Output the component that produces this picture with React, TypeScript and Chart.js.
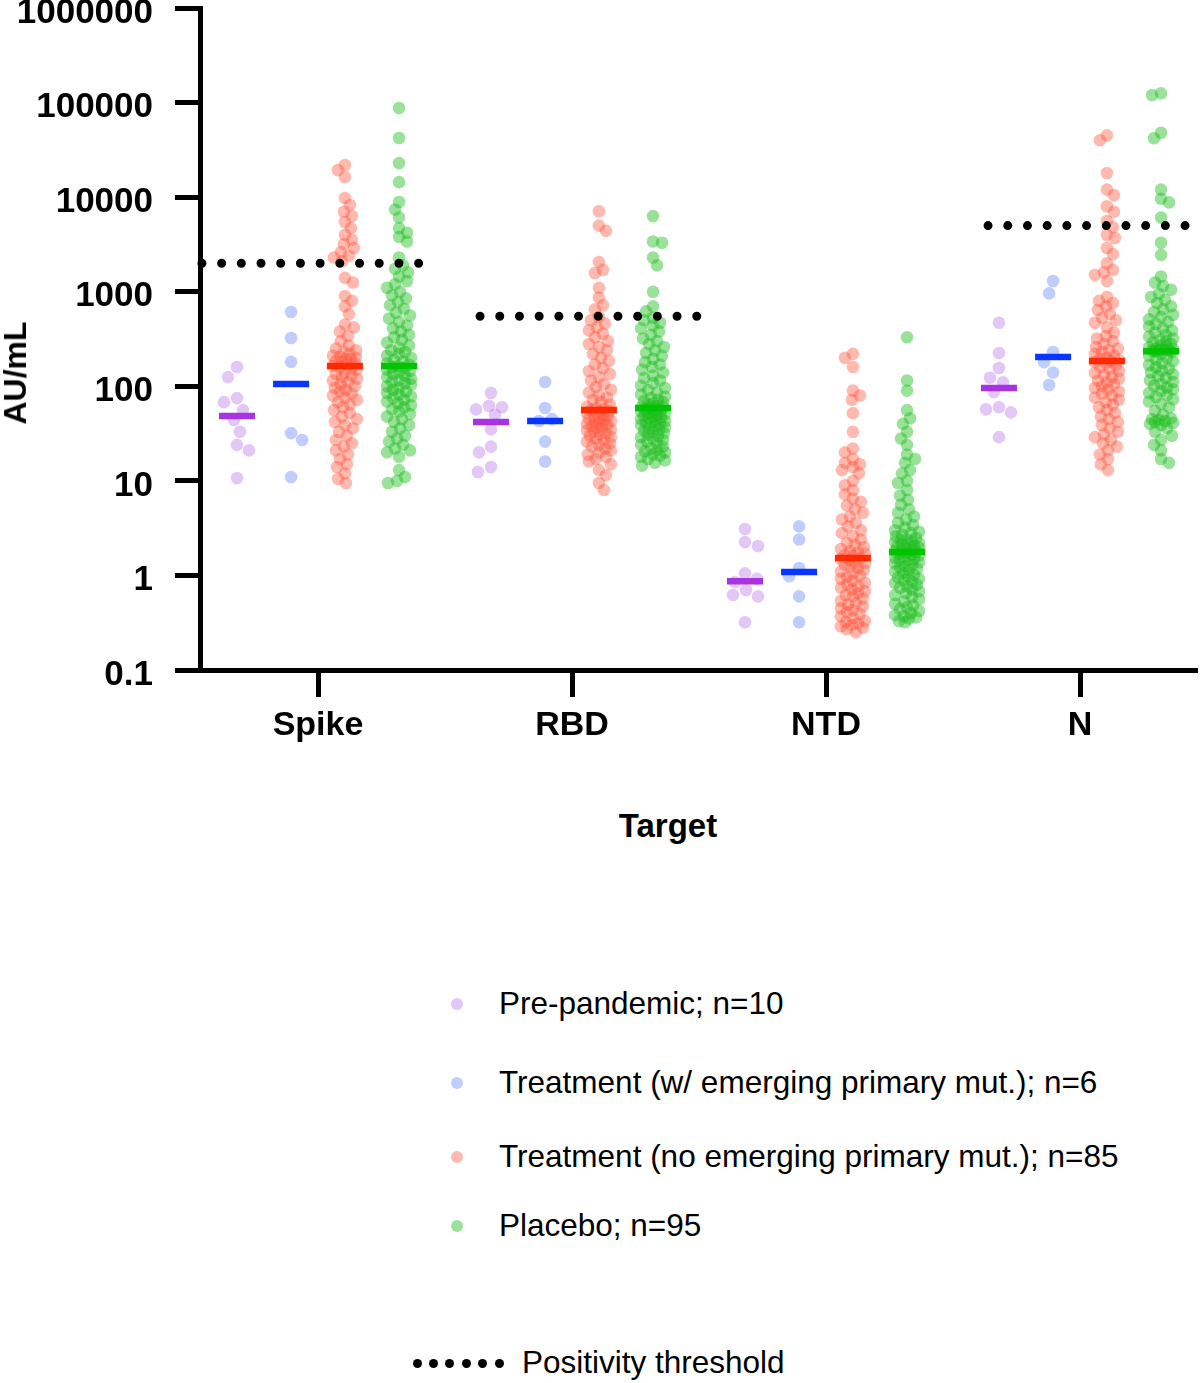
import React, { useEffect, useRef } from 'react';
import { Chart, registerables } from 'chart.js';

Chart.register(...registerables);

const categories = ['Spike', 'RBD', 'NTD', 'N'];
const yTickValues = [0.1, 1, 10, 100, 1000, 10000, 100000, 1000000];
const groupLabels = [
  'Pre-pandemic; n=10',
  'Treatment (w/ emerging primary mut.); n=6',
  'Treatment (no emerging primary mut.); n=85',
  'Placebo; n=95',
];
const thresholdLabel = 'Positivity threshold';

// ---- Spike ----
const spikePre = [160, 125, 75, 68, 56, 44, 33, 24, 21, 10.7];
const spikeMut = [611, 324, 181, 32, 27, 11];
const spikeNoMut = [
  21900, 19400, 16300, 9800, 8250, 7000, 6300, 5460, 4700, 4000,
  3550, 3200, 2900, 2620, 2400, 2300, 2100,
  1400, 1250, 900, 800, 700, 580, 450, 420, 380, 340, 300, 270,
  250, 240, 230, 220, 210, 205, 200, 195, 190, 185, 180, 175, 170,
  164,
  160, 155, 150, 140, 135, 130, 125, 120, 115, 110,
  105, 100, 96, 92, 88, 84, 80, 76, 72, 68,
  64, 60, 56, 52, 48, 45, 42, 39, 36, 33,
  30, 27, 25, 23, 21, 19, 17, 15, 14, 12, 10.5, 9.5,
];
const spikePlacebo = [
  87700, 42200, 22900, 14400, 8900, 7400, 6100, 4700, 4200, 3800, 3400, 2300,
  1900, 1750, 1600, 1450, 1300, 1200, 1100, 1000, 920, 850,
  780, 720, 660, 600, 560, 520, 480, 440, 410, 380,
  350, 330, 310, 290, 270, 255, 240, 230, 220, 210,
  200, 190, 182, 175, 170,
  164,
  160, 155, 150, 145, 140, 135, 130, 125, 120, 116,
  112, 108, 104, 100, 96, 92, 88, 85, 82, 78,
  75, 72, 69, 66, 63, 60, 57, 54, 51, 48,
  45, 42, 39, 36,
  33, 30, 28, 26, 24, 22, 21, 20, 18, 13, 11, 10, 9.5,
];

// ---- RBD ----
const rbdPre = [85, 62, 60, 57, 50, 35, 23, 20, 14, 12.4];
const rbdMut = [111, 59, 45, 43, 26, 16];
const rbdNoMut = [
  7100, 5000, 4400, 2060, 1700, 1580, 1100, 870, 720, 650,
  540, 500, 460, 420, 390, 360, 330, 300, 280, 260,
  240, 220, 200, 185, 170, 155, 145, 135, 125, 115,
  105, 98, 92, 86, 80, 76, 72, 68, 64, 61, 59, 57,
  56,
  55, 54, 52, 50, 49, 48, 46, 45, 44, 43,
  42, 41, 40, 39, 38, 37, 36, 35, 34, 33,
  32, 31, 30, 29, 28, 27, 26, 25, 24, 23,
  22, 21, 20, 19, 18, 17, 16, 15, 13, 11.5, 9.5, 8,
];
const rbdPlacebo = [
  6300, 3400, 3300, 2300, 1900, 1000, 700, 620,
  530, 500, 470, 440, 410, 380, 350, 320, 300, 280,
  260, 240, 225, 210, 195, 180, 170, 160, 150, 140,
  130, 122, 115, 108, 102, 96, 91, 86, 82, 78,
  75, 72, 70, 68, 66, 64, 62, 61, 60,
  59,
  58, 57, 56, 55, 54, 53, 52, 51, 50, 49,
  48, 47, 46, 45, 44, 43, 42, 41, 40, 39,
  38, 37, 36, 35, 34, 33, 32, 31, 30, 29,
  28, 27, 26, 25, 24, 23, 22, 21,
  20.5, 20, 19, 18.5, 18, 17, 16.5, 15.5, 14.5,
];

// ---- NTD ----
const ntdPre = [3.1, 2.25, 2.05, 1.05, 0.92, 0.85, 0.7, 0.62, 0.6, 0.32];
const ntdMut = [3.3, 2.4, 1.2, 0.98, 0.6, 0.32];
const ntdNoMut = [
  220, 200, 160, 90, 80, 72, 52, 33, 22, 20,
  17, 15.5, 15, 14, 13, 12, 10, 9, 8, 7.2,
  6.5, 6, 5.5, 5, 4.6, 4.2, 3.9, 3.6, 3.3, 3.0,
  2.8, 2.6, 2.4, 2.2, 2.1, 2.0, 1.9, 1.8, 1.75, 1.7, 1.65, 1.6,
  1.53,
  1.48, 1.45, 1.4, 1.35, 1.3, 1.25, 1.2, 1.15, 1.1, 1.05,
  1.0, 0.96, 0.92, 0.88, 0.84, 0.8, 0.77, 0.74, 0.71, 0.68,
  0.65, 0.62, 0.6, 0.57, 0.54, 0.51, 0.49, 0.47, 0.45, 0.43,
  0.41, 0.39, 0.37, 0.35, 0.33, 0.32, 0.31, 0.3, 0.29, 0.28, 0.27, 0.25,
];
const ntdPlacebo = [
  330, 115, 90, 56, 46, 40, 33, 28, 24, 19,
  17, 15.5, 13, 12, 10, 9.5, 8, 7, 6.3, 5.6,
  5, 4.6, 4.2, 3.9, 3.6, 3.4, 3.2, 3.0, 2.9, 2.8,
  2.7, 2.6, 2.5, 2.4, 2.35, 2.3, 2.25, 2.2, 2.15, 2.1,
  2.05, 2.0, 1.95, 1.9, 1.85, 1.82, 1.8,
  1.77,
  1.74, 1.7, 1.66, 1.62, 1.58, 1.54, 1.5, 1.46, 1.42, 1.38,
  1.34, 1.3, 1.26, 1.22, 1.18, 1.14, 1.1, 1.06, 1.02, 0.98,
  0.95, 0.92, 0.89, 0.86, 0.83, 0.8, 0.77, 0.74, 0.71, 0.68,
  0.65, 0.62, 0.59, 0.56, 0.53, 0.5, 0.48, 0.46, 0.44, 0.42,
  0.4, 0.38, 0.37, 0.36, 0.35, 0.33, 0.32,
];

// ---- N ----
const nPre = [470, 225, 156, 123, 110, 87, 60, 57, 53, 29];
const nMut = [1300, 960, 230, 180, 140, 103];
const nNoMut = [
  45000, 40000, 18000, 12000, 10500, 8000, 7000, 5600, 4800, 4000,
  3700, 2900, 2500, 2000, 1700, 1600, 1500, 1300, 880, 800,
  760, 700, 640, 580, 530, 500, 470, 420, 370, 340,
  320, 300, 280, 260, 250, 240, 230, 220, 210, 200, 195, 190,
  185,
  180, 175, 168, 160, 152, 145, 138, 132, 126, 120,
  115, 110, 105, 100, 96, 92, 88, 84, 80, 76,
  72, 68, 64, 60, 56, 52, 48, 45, 42, 39,
  36, 33, 31, 29, 27, 25, 23, 21, 19, 17, 15, 13,
];
const nPlacebo = [
  125000, 120000, 48000, 42000, 12000, 9600, 8800, 6100, 3300, 2450,
  1450, 1250, 1150, 1050, 950, 880, 820, 760, 700, 650,
  610, 570, 540, 510, 480, 455, 430, 410, 390, 370,
  350, 335, 320, 310, 300, 290, 280, 272, 265, 258,
  252, 248, 245, 242, 240, 238, 236,
  235,
  230, 220, 210, 200, 192, 184, 176, 168, 160, 153,
  146, 140, 134, 128, 122, 116, 111, 106, 101, 97,
  93, 89, 85, 81, 77, 73, 69, 65, 60, 55,
  50, 46, 45, 44, 43, 42, 41, 40, 39, 36,
  33, 30, 27, 24, 21, 17, 15.5,
];

// medians (per category: Spike, RBD, NTD, N)
const preMedians = [48.5, 42, 0.87, 96];
const mutMedians = [106, 43, 1.09, 204];
const noMutMedians = [164, 56, 1.53, 185];
const placeboMedians = [164, 59, 1.77, 235];

// positivity thresholds per category (NTD has none)
const thresholds: (number | null)[] = [2000, 550, null, 5000];

// ---- styling / layout ----
const FONT = '"Liberation Sans", Arial, Helvetica, sans-serif';
const pointColors = [
  'rgba(175, 95, 230, 0.35)',
  'rgba(90, 125, 255, 0.38)',
  'rgba(255, 80, 55, 0.4)',
  'rgba(25, 190, 25, 0.44)',
];
const medianColors = ['#a734e1', '#0a34ff', '#ff2a00', '#00c400'];
const groupOffsets = [-0.319, -0.106, 0.106, 0.319];
const swarmSpacing = [13, 13, 8.5, 8.5];
const swarmHalfWidth = [16, 16, 12, 12];
const thresholdSpans: ([number, number] | null)[] = [
  [-0.457, 0.398],
  [-0.362, 0.496],
  null,
  [-0.362, 0.421],
];
const X_MIN = -0.4646;
const X_MAX = 3.4606;
const CANVAS_W = 1200;
const CANVAS_H = 770;

const groupValues = [
  [spikePre, rbdPre, ntdPre, nPre],
  [spikeMut, rbdMut, ntdMut, nMut],
  [spikeNoMut, rbdNoMut, ntdNoMut, nNoMut],
  [spikePlacebo, rbdPlacebo, ntdPlacebo, nPlacebo],
];
const groupMedians = [preMedians, mutMedians, noMutMedians, placeboMedians];

function swarm(py: number[], D: number, maxOff: number): number[] {
  const order = py.map((_, i) => i).sort((a, b) => py[a] - py[b]);
  const placed: [number, number][] = [];
  const out = new Array(py.length).fill(0);
  order.forEach((i, n) => {
    const y = py[i];
    const sgn = n % 2 === 0 ? 1 : -1;
    const cands: number[] = [0];
    for (let k = 1; k <= maxOff; k++) cands.push(sgn * k, -sgn * k);
    const near = placed.filter((p) => Math.abs(p[1] - y) < D);
    let best = 0;
    let bestD = -1;
    for (const c of cands) {
      let md = Infinity;
      for (const p of near) {
        const d = Math.hypot(p[0] - c, p[1] - y);
        if (d < md) md = d;
      }
      if (md >= D) {
        best = c;
        bestD = md;
        break;
      }
      if (md > bestD + 0.5) {
        bestD = md;
        best = c;
      }
    }
    out[i] = best;
    placed.push([best, y]);
  });
  return out;
}

const noPadding = () => ({ left: 0, top: 0, right: 0, bottom: 0 });

export default function App() {
  const ref = useRef<HTMLCanvasElement | null>(null);

  useEffect(() => {
    document.body.style.margin = '0';
    const canvas = ref.current;
    if (!canvas) return;

    const pointDatasets = groupValues.map((cats, gi) => ({
      type: 'scatter' as const,
      label: groupLabels[gi],
      data: cats.flatMap((vals, ci) => vals.map((v) => ({ x: ci + groupOffsets[gi], y: v }))),
      backgroundColor: pointColors[gi],
      borderWidth: 0,
      pointRadius: 6.3,
      pointHoverRadius: 6.3,
      order: 10 - gi,
    }));

    const medianDatasets = groupMedians.map((meds, gi) => ({
      type: 'scatter' as const,
      label: groupLabels[gi] + ' median',
      data: meds.map((m, ci) => ({ x: ci + groupOffsets[gi], y: m })),
      pointStyle: 'line' as const,
      pointRadius: 18,
      pointHoverRadius: 18,
      borderColor: medianColors[gi],
      backgroundColor: medianColors[gi],
      pointBorderWidth: 6.5,
      borderWidth: 6.5,
      order: 2,
    }));

    const thresholdDatasets = thresholds
      .map((t, ci) => {
        const span = thresholdSpans[ci];
        if (t === null || !span) return null;
        return {
          type: 'line' as const,
          label: thresholdLabel,
          data: [
            { x: ci + span[0], y: t },
            { x: ci + span[1], y: t },
          ],
          borderColor: '#000',
          borderWidth: 9,
          borderDash: [0, 19.7],
          borderCapStyle: 'round' as const,
          pointRadius: 0,
          fill: false,
          clip: false as any,
          order: 0,
        };
      })
      .filter(Boolean) as any[];

    const chart = new Chart(canvas, {
      type: 'scatter',
      data: { datasets: [...pointDatasets, ...medianDatasets, ...thresholdDatasets] as any },
      options: {
        responsive: false,
        animation: false,
        events: [],
        layout: { autoPadding: false, padding: { top: 8, right: 3, bottom: 0, left: 0 } },
        plugins: { legend: { display: false }, tooltip: { enabled: false } },
        scales: {
          x: {
            type: 'linear',
            min: X_MIN,
            max: X_MAX,
            afterBuildTicks: (axis: any) => {
              axis.ticks = categories.map((_, i) => ({ value: i }));
            },
            afterFit: (scale: any) => {
              scale.height = CANVAS_H - 670;
              scale.paddingLeft = 0;
              scale.paddingRight = 0;
              scale.getPadding = noPadding;
            },
            ticks: {
              autoSkip: false,
              maxRotation: 0,
              padding: 8,
              color: '#000',
              font: { family: FONT, size: 34, weight: 'bold' },
              callback: (v: any) => categories[Math.round(Number(v))] ?? '',
            },
            grid: {
              drawOnChartArea: false,
              drawTicks: true,
              tickLength: 27,
              tickWidth: 5,
              tickColor: '#000',
            },
            border: { display: true, color: '#000', width: 5 },
          },
          y: {
            type: 'logarithmic',
            min: 0.1,
            max: 1000000,
            afterBuildTicks: (axis: any) => {
              axis.ticks = yTickValues.map((v) => ({ value: v }));
            },
            afterFit: (scale: any) => {
              scale.width = 200;
              scale.paddingTop = 0;
              scale.paddingBottom = 0;
              scale.getPadding = noPadding;
            },
            ticks: {
              autoSkip: false,
              padding: 22,
              labelOffset: 5,
              color: '#000',
              font: { family: FONT, size: 35, weight: 'bold' },
              callback: (v: any) => {
                const n = Number(v);
                return n < 1 ? String(Math.round(n * 10) / 10) : String(Math.round(n));
              },
            },
            grid: {
              drawOnChartArea: false,
              drawTicks: true,
              tickLength: 25,
              tickWidth: 5,
              tickColor: '#000',
            },
            border: { display: true, color: '#000', width: 5 },
          },
        },
      } as any,
    });

    // lay out each column as a swarm, using the chart's own scales
    const xs: any = chart.scales.x;
    const ys: any = chart.scales.y;
    const ppu = xs.getPixelForValue(1) - xs.getPixelForValue(0);
    groupValues.forEach((cats, gi) => {
      const pts: { x: number; y: number }[] = [];
      cats.forEach((vals, ci) => {
        const py = vals.map((v) => ys.getPixelForValue(v));
        const offs = swarm(py, swarmSpacing[gi], swarmHalfWidth[gi]);
        vals.forEach((v, i) => pts.push({ x: ci + groupOffsets[gi] + offs[i] / ppu, y: v }));
      });
      (chart.data.datasets[gi] as any).data = pts;
    });
    chart.update('none');

    return () => chart.destroy();
  }, []);

  const legendRows = [1004, 1083, 1157, 1226];

  return (
    <div
      style={{
        position: 'relative',
        width: CANVAS_W,
        height: 1383,
        fontFamily: FONT,
        color: '#000',
        background: '#fff',
        overflow: 'hidden',
      }}
    >
      <canvas
        ref={ref}
        width={CANVAS_W}
        height={CANVAS_H}
        style={{ position: 'absolute', left: 0, top: 0, width: CANVAS_W, height: CANVAS_H }}
      />
      <div
        style={{
          position: 'absolute',
          left: 15,
          top: 373,
          transform: 'translate(-50%, -50%) rotate(-90deg)',
          fontWeight: 'bold',
          fontSize: 32,
          whiteSpace: 'nowrap',
          lineHeight: 1,
        }}
      >
        AU/mL
      </div>
      <div
        style={{
          position: 'absolute',
          left: 668,
          top: 825,
          transform: 'translate(-50%, -50%)',
          fontWeight: 'bold',
          fontSize: 33,
          whiteSpace: 'nowrap',
          lineHeight: 1,
        }}
      >
        Target
      </div>
      {groupLabels.map((lab, gi) => (
        <React.Fragment key={lab}>
          <div
            style={{
              position: 'absolute',
              left: 457 - 6,
              top: legendRows[gi] - 6,
              width: 12,
              height: 12,
              borderRadius: '50%',
              background: pointColors[gi],
            }}
          />
          <div
            style={{
              position: 'absolute',
              left: 499,
              top: legendRows[gi],
              transform: 'translateY(-50%)',
              fontSize: 31.5,
              whiteSpace: 'nowrap',
              lineHeight: 1,
            }}
          >
            {lab}
          </div>
        </React.Fragment>
      ))}
      {[0, 1, 2, 3, 4, 5].map((k) => (
        <div
          key={'d' + k}
          style={{
            position: 'absolute',
            left: 417 + k * 16.4 - 4.5,
            top: 1363 - 4.5,
            width: 9,
            height: 9,
            borderRadius: '50%',
            background: '#000',
          }}
        />
      ))}
      <div
        style={{
          position: 'absolute',
          left: 522,
          top: 1363,
          transform: 'translateY(-50%)',
          fontSize: 31.5,
          whiteSpace: 'nowrap',
          lineHeight: 1,
        }}
      >
        {thresholdLabel}
      </div>
    </div>
  );
}
